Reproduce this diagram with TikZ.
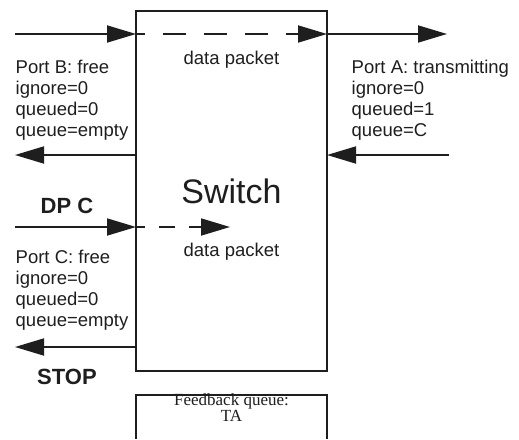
\documentclass[tikz,border=0pt]{standalone}
\usepackage{fontspec}
\setmainfont{Liberation Sans}
\newfontfamily\serifface{Liberation Serif}
\usetikzlibrary{arrows.meta}
\definecolor{ink}{HTML}{1E1E1E}

\begin{document}
\begin{tikzpicture}[x=1pt,y=-1pt,
  wire/.style={line width=1.8pt, draw=ink},
  arr/.style={wire, -{Triangle[length=29pt,width=17pt]}},
  longdash/.style={dash pattern=on 23pt off 18pt, dash phase=14pt},
  shortdash/.style={dash pattern=on 16pt off 14pt, dash phase=7pt},
  portlabel/.style={font=\fontsize{18.5}{21}\selectfont, inner sep=0pt, anchor=base west, text=ink},
  packetlabel/.style={font=\fontsize{18.5}{21}\selectfont, inner sep=0pt, anchor=base, text=ink},
  boldlabel/.style={font=\fontsize{22}{26}\selectfont\bfseries, inner sep=0pt, anchor=base west, text=ink},
  queuelabel/.style={font=\serifface\fontsize{17}{19}\selectfont, inner sep=0pt, anchor=base, text=ink}]
\useasboundingbox (0,0) rectangle (519,439);

% the switch
\node[wire, draw, rectangle, minimum width=191pt, minimum height=360pt,
      inner sep=0pt, outer sep=0pt, font=\fontsize{34}{40}\selectfont, text=ink]
      (switch) at (231.5,191) {Switch};

% port end points
\coordinate (bIn)  at (15,34);
\coordinate (aOut) at (447,34);
\coordinate (bOut) at (15,155);
\coordinate (aIn)  at (449,155);
\coordinate (cIn)  at (15,227);
\coordinate (cMid) at (230,227);
\coordinate (cOut) at (15,347);

% packet from B through the switch to A
\draw[arr] (bIn) -- (bIn -| switch.west);
\draw[arr, longdash] (bIn -| switch.west) -- (bIn -| switch.east);
\draw[arr] (bIn -| switch.east) -- (aOut);

% return links
\draw[arr] (bOut -| switch.west) -- (bOut);
\draw[arr] (aIn) -- (aIn -| switch.east);

% packet arriving on C
\draw[arr] (cIn) -- (cIn -| switch.west);
\draw[arr, shortdash] (cIn -| switch.west) -- (cMid);
\draw[arr] (cOut -| switch.west) -- (cOut);

% labels
\node[packetlabel] (pk1) at (231.5,64) {data packet};
\node[packetlabel] (pk2) at (231.5,256) {data packet};

\node[portlabel] (pb1) at (15.5,73)  {Port B: free};
\node[portlabel] (pb2) at (15.5,94)  {ignore=0};
\node[portlabel] (pb3) at (15.5,115) {queued=0};
\node[portlabel] (pb4) at (15.5,136) {queue=empty};

\node[portlabel] (pa1) at (351.5,73)  {Port A: transmitting};
\node[portlabel] (pa2) at (351.5,94)  {ignore=0};
\node[portlabel] (pa3) at (351.5,115) {queued=1};
\node[portlabel] (pa4) at (351.5,136) {queue=C};

\node[portlabel] (pc1) at (15.5,263) {Port C: free};
\node[portlabel] (pc2) at (15.5,284) {ignore=0};
\node[portlabel] (pc3) at (15.5,305) {queued=0};
\node[portlabel] (pc4) at (15.5,326) {queue=empty};

\node[boldlabel] (dpc)  at (40.5,213) {DP C};
\node[boldlabel] (stop) at (37,384)  {STOP};

% feedback queue box, open at the bottom
\draw[wire] (136,439) |- (327,395) -- (327,439);
\node[queuelabel] (fq1) at (231.5,405.5) {Feedback queue:};
\node[queuelabel] (fq2) at (231.5,421) {TA};
\end{tikzpicture}
\end{document}
